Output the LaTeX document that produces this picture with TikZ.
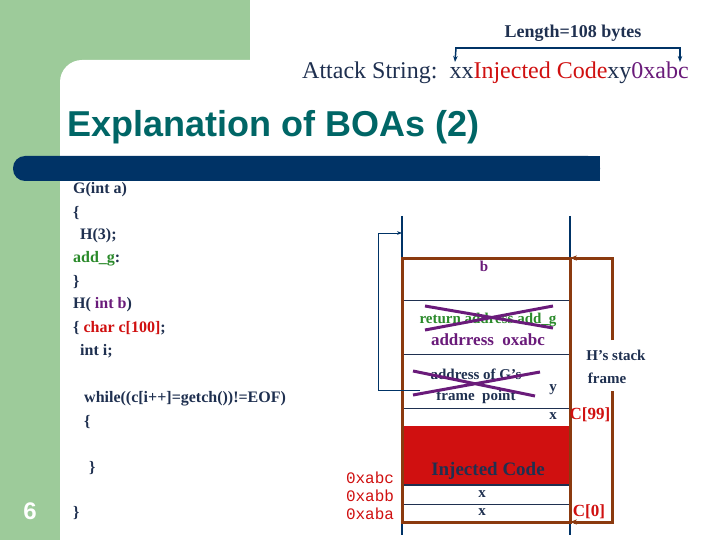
\documentclass[tikz,border=0pt]{standalone}
\usepackage{fontspec}
\setmainfont{Liberation Serif}
\newfontfamily\hsans{Liberation Sans}
\newfontfamily\mono{Liberation Mono}
\usetikzlibrary{arrows.meta}
\definecolor{bggreen}{HTML}{9DCB9A}
\definecolor{navy}{HTML}{003366}
\definecolor{teal2}{HTML}{006666}
\definecolor{brownc}{HTML}{8B3A0F}
\definecolor{txt}{HTML}{1F3050}
\definecolor{purp}{HTML}{6A1B7A}
\definecolor{grn}{HTML}{2A8A2A}
\definecolor{redc}{HTML}{D01010}
\tikzset{code/.style={anchor=west,inner sep=0,font=\fontsize{16}{16}\selectfont\bfseries,text=txt},
lab/.style={inner sep=0,font=\fontsize{15}{15}\selectfont\bfseries,text=txt},
cross/.style={purp,line width=3pt}}
\begin{document}
\begin{tikzpicture}[x=1pt,y=-1pt]
\useasboundingbox (0,0) rectangle (720,540);
\fill[bggreen] (0,0) rectangle (250,540);
\fill[white,rounded corners=22pt] (60,60) rectangle (740,560);
\fill[navy,rounded corners=12pt] (13,156) rectangle (600,181);
\fill[navy] (420,156) rectangle (600,181);
\node[white,font=\hsans\bfseries\fontsize{24}{24}\selectfont] (n6) at (30,511) {6};
\node[anchor=west,inner sep=0,text=teal2,font=\hsans\bfseries\fontsize{36}{36}\selectfont] (title) at (67,127) {Explanation of BOAs (2)};
\node[anchor=east,inner sep=0,font=\fontsize{24}{24}\selectfont,text=txt] (atk) at (689,73) {Attack String:\ \ xx\textcolor{redc}{Injected Code}xy\textcolor{purp}{0xabc}};
\node[lab,font=\fontsize{18}{18}\selectfont\bfseries] (len) at (573,33) {Length=108 bytes};
\coordinate (bl) at (455,62); \coordinate (br) at (680,62);
\draw[navy,line width=1.5pt,-{Stealth[length=6pt]}] (455,48) -- (680,48) -- (br);
\draw[navy,line width=1.5pt,-{Stealth[length=6pt]}] (456,48) -- (bl);
% code
\node[code] (c1) at (73,190) {G(int a)};
\node[code] (c2) at (73,213) {\{};
\node[code] (c3) at (80,236) {H(3);};
\node[code] (c4) at (73,259) {\textcolor{grn}{add\_g}:};
\node[code] (c5) at (73,282) {\}};
\node[code] (c6) at (73,305) {H( \textcolor{purp}{int b})};
\node[code] (c7) at (73,328) {\{ \textcolor{redc}{char c[100]};};
\node[code] (c8) at (80,351) {int i;};
\node[code] (c9) at (84,399) {while((c[i++]=getch())!=EOF)};
\node[code] (c10) at (84,422) {\{};
\node[code] (c11) at (89,468) {\}};
\node[code] (c12) at (73,513) {\}};
% stack
\fill[redc] (402,426) rectangle (570,485);
\draw[navy,line width=2.5pt] (402,216) -- (402,535);
\draw[navy,line width=2.5pt] (570,216) -- (570,535);
\draw[txt,line width=0.6pt] (402,300) -- (570,300) (402,354) -- (570,354) (402,408) -- (570,408) (402,504) -- (570,504);
\draw[txt,line width=1.8pt] (402,485) -- (570,485);
\draw[brownc,line width=3pt] (402,258) rectangle (570,522);
\node[lab,text=purp] (b) at (484,266) {b};
\node[lab,text=grn] (ret) at (488,320) {return address add\_g};
\node[lab,text=purp,font=\fontsize{17}{17}\selectfont\bfseries] (adr) at (488,340) {addrress\ \ oxabc};
\node[lab] (g1) at (476,374) {address of G's};
\node[lab] (g2) at (476,397) {frame\ \ point};
\draw[cross] (425,306) -- (553,328) (425,330) -- (553,306);
\draw[cross] (413,371) -- (535,396) (413,395) -- (540,372);
\node[lab] (y) at (553,390) {y};
\node[lab] (x1) at (553,416) {x};
\node[lab,text=redc,font=\fontsize{17}{17}\selectfont\bfseries] (c99) at (590,415) {C[99]};
\node[lab,text=txt,font=\fontsize{19}{19}\selectfont\bfseries] (inj) at (488,471) {Injected Code};
\node[lab] (x2) at (482,494) {x};
\node[lab] (x3) at (482,512) {x};
\node[lab,text=redc,font=\fontsize{17}{17}\selectfont\bfseries] (c0) at (589,512) {C[0]};
\node[inner sep=0,text=redc,font=\mono\fontsize{16}{16}\selectfont] (a1) at (370,478) {0xabc};
\node[inner sep=0,text=redc,font=\mono\fontsize{16}{16}\selectfont] (a2) at (370,496) {0xabb};
\node[inner sep=0,text=redc,font=\mono\fontsize{16}{16}\selectfont] (a3) at (370,514) {0xaba};
\node[lab] (hs) at (616,355) {H's stack};
\node[lab] (fr) at (607,378) {frame};
\coordinate (st) at (570,258); \coordinate (sb) at (570,522);
\draw[brownc,line width=3pt,-{Stealth[length=7pt]}] (612,340) -- (612,258) -- (st);
\draw[brownc,line width=3pt,-{Stealth[length=7pt]}] (612,391) -- (612,522) -- (sb);
\coordinate (ret0) at (402,233);
\draw[navy,line width=1pt,-{Stealth[length=5pt]}] (420,390) -- (378,390) -- (378,233) -- (ret0);
\end{tikzpicture}
\end{document}
